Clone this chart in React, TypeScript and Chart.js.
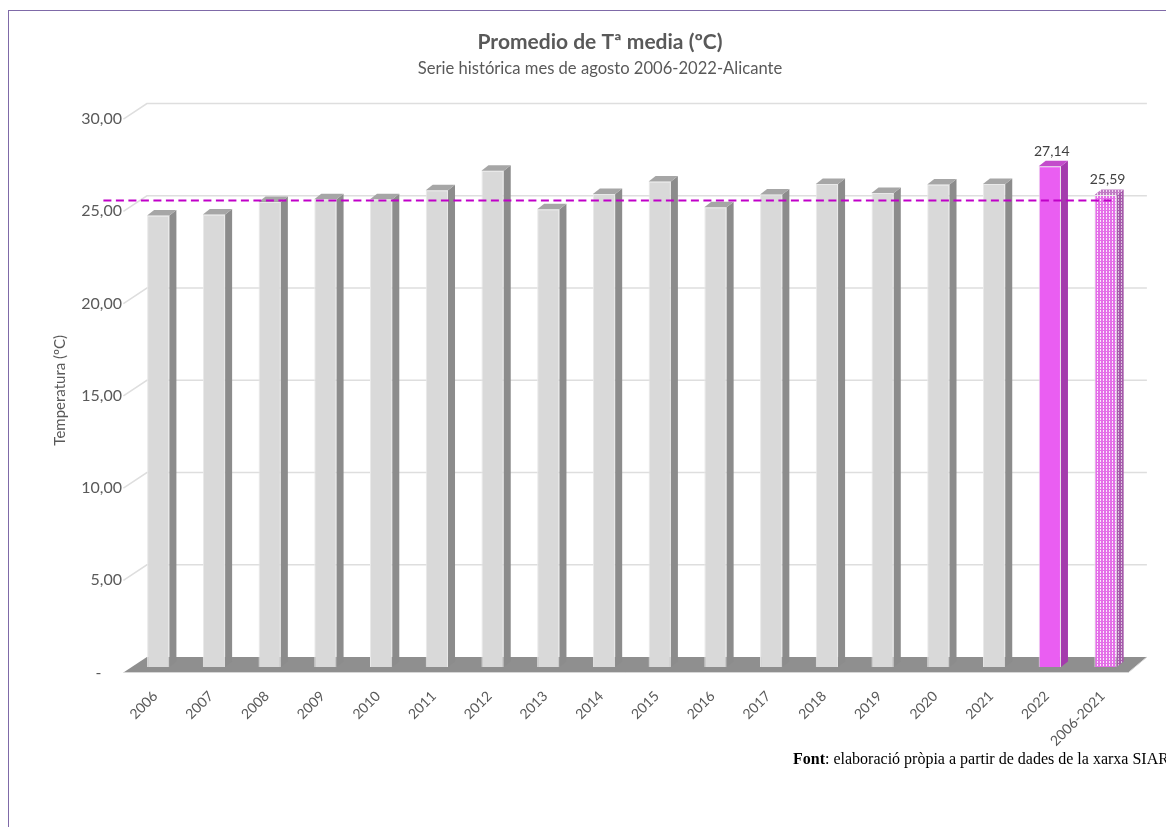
import React, { useEffect, useRef } from 'react';
import { Chart, registerables } from 'chart.js';

Chart.register(...registerables);

// ---------- data ----------
const categories = [
  '2006', '2007', '2008', '2009', '2010', '2011', '2012', '2013', '2014',
  '2015', '2016', '2017', '2018', '2019', '2020', '2021', '2022', '2006-2021',
];
const temperatures = [
  24.47, 24.52, 25.21, 25.35, 25.35, 25.84, 26.9, 24.81, 25.64,
  26.32, 24.92, 25.61, 26.18, 25.69, 26.15, 26.18, 27.14, 25.59,
];
const averageValue = 25.59;
const labelledCategories = ['2022', '2006-2021'];
const yTickValues = [0, 5, 10, 15, 20, 25, 30];
const yTickLabels = ['-     ', '5,00', '10,00', '15,00', '20,00', '25,00', '30,00'];
const titleText = 'Promedio de Tª media (ºC)';
const subtitleText = 'Serie histórica mes de agosto 2006-2022-Alicante';
const yAxisTitle = 'Temperatura (ºC)';
const sourceBold = 'Font';
const sourceRest = ': elaboració pròpia a partir de dades de la xarxa SIAR';

// ---------- style ----------
const FONT = 'Lato, "Open Sans", sans-serif';
const TEXT = '#595959';
const BAR_DX = 7;
const BAR_DY = 5.5;
const PAD_LEFT = 66.6;
const CHART_LEFT = 130.4;

function makePattern(fg: string, bg: string): CanvasPattern {
  const c = document.createElement('canvas');
  c.width = 3;
  c.height = 3;
  const g = c.getContext('2d')!;
  g.fillStyle = bg;
  g.fillRect(0, 0, 3, 3);
  g.fillStyle = fg;
  g.fillRect(0, 0, 3, 1);
  g.fillRect(0, 0, 2, 3);
  return g.createPattern(c, 'repeat')!;
}

const fmt = (v: number) => v.toFixed(2).replace('.', ',');

export default function App() {
  const canvasRef = useRef<HTMLCanvasElement | null>(null);

  useEffect(() => {
    const canvas = canvasRef.current;
    if (!canvas) return;

    const avgFront = makePattern('#e46fe8', '#fbe9fb');
    const avgSide = makePattern('#a65aab', '#dcc0de');
    const avgTop = makePattern('#c07ac4', '#efd8f0');

    const n = categories.length;
    const frontColors: (string | CanvasPattern)[] = [];
    const sideColors: (string | CanvasPattern)[] = [];
    const topColors: (string | CanvasPattern)[] = [];
    for (let i = 0; i < n; i++) {
      if (categories[i] === '2022') {
        frontColors.push('#ea5ef2');
        sideColors.push('#a43bad');
        topColors.push('#c34ccb');
      } else if (categories[i] === '2006-2021') {
        frontColors.push(avgFront);
        sideColors.push(avgSide);
        topColors.push(avgTop);
      } else {
        frontColors.push('#d9d9d9');
        sideColors.push('#8c8c8c');
        topColors.push('#a6a6a6');
      }
    }

    const threeD = {
      id: 'threeD',
      beforeDatasetsDraw(chart: any) {
        const { ctx, chartArea, scales } = chart;
        const y = scales.y;
        const l = chartArea.left;
        const r = chartArea.right;
        ctx.save();
        // back wall gridlines
        ctx.strokeStyle = '#dedede';
        ctx.lineWidth = 1.5;
        yTickValues.forEach((v) => {
          if (v === 0) return;
          const py = y.getPixelForValue(v);
          ctx.beginPath();
          ctx.moveTo(l - 7, py + 5.5);
          ctx.lineTo(l + 16.5, py - 10);
          ctx.lineTo(r + 13.5, py - 10);
          ctx.stroke();
        });
        // floor
        const p0 = y.getPixelForValue(0);
        ctx.fillStyle = '#8f8f8f';
        ctx.beginPath();
        ctx.moveTo(l - 7, p0 + 5.5);
        ctx.lineTo(r - 5, p0 + 5.5);
        ctx.lineTo(r + 13.5, p0 - 10);
        ctx.lineTo(l + 16.5, p0 - 10);
        ctx.closePath();
        ctx.fill();
        ctx.strokeStyle = '#d6d6d6';
        ctx.lineWidth = 1;
        ctx.beginPath();
        ctx.moveTo(l - 7, p0 + 5.5);
        ctx.lineTo(r - 5, p0 + 5.5);
        ctx.lineTo(r + 13.5, p0 - 10);
        ctx.stroke();
        ctx.restore();
      },
      afterDatasetDraw(chart: any, args: any) {
        if (args.index !== 0) return;
        const { ctx } = chart;
        const meta = chart.getDatasetMeta(0);
        ctx.save();
        meta.data.forEach((bar: any, i: number) => {
          const { x, y, width, base } = bar.getProps(['x', 'y', 'width', 'base'], true);
          const xl = x - width / 2;
          const xr = x + width / 2;
          ctx.fillStyle = sideColors[i];
          ctx.beginPath();
          ctx.moveTo(xr, y);
          ctx.lineTo(xr + BAR_DX, y - BAR_DY);
          ctx.lineTo(xr + BAR_DX, base - BAR_DY);
          ctx.lineTo(xr, base);
          ctx.closePath();
          ctx.fill();
          ctx.fillStyle = topColors[i];
          ctx.beginPath();
          ctx.moveTo(xl, y);
          ctx.lineTo(xl + BAR_DX, y - BAR_DY);
          ctx.lineTo(xr + BAR_DX, y - BAR_DY);
          ctx.lineTo(xr, y);
          ctx.closePath();
          ctx.fill();
        });
        ctx.restore();
      },
      afterDatasetsDraw(chart: any) {
        const { ctx, chartArea, scales } = chart;
        const y = scales.y;
        const meta = chart.getDatasetMeta(0);
        const last = meta.data[meta.data.length - 1];
        ctx.save();
        // average dashed line
        const py = y.getPixelForValue(averageValue) + 5.5;
        ctx.strokeStyle = '#c000c8';
        ctx.lineWidth = 2;
        ctx.setLineDash([8, 4.5]);
        ctx.beginPath();
        ctx.moveTo(chartArea.left - 27, py);
        ctx.lineTo(last.x + last.width / 2 - 2, py);
        ctx.stroke();
        ctx.setLineDash([]);
        // data labels
        ctx.fillStyle = '#404040';
        ctx.font = `14px ${FONT}`;
        ctx.textAlign = 'center';
        ctx.textBaseline = 'middle';
        meta.data.forEach((bar: any, i: number) => {
          if (!labelledCategories.includes(categories[i])) return;
          ctx.fillText(fmt(temperatures[i]), bar.x + 2, bar.y - 15);
        });
        ctx.restore();
      },
    };

    const chart = new Chart(canvas, {
      type: 'bar',
      data: {
        labels: categories,
        datasets: [
          {
            data: temperatures,
            backgroundColor: frontColors as any,
            borderColor: '#e9e9e9',
            borderWidth: 1,
            barPercentage: 0.4,
            categoryPercentage: 1,
          },
        ],
      },
      options: {
        responsive: false,
        animation: false,
        layout: { padding: { left: PAD_LEFT, right: 32.6, top: 0, bottom: 0 } },
        plugins: {
          legend: { display: false },
          tooltip: { enabled: false },
          title: {
            display: true,
            text: titleText,
            color: TEXT,
            font: { family: FONT, size: 21, weight: 'bold' },
            padding: { top: 29.4, bottom: 4 },
          },
          subtitle: {
            display: true,
            text: subtitleText,
            color: TEXT,
            font: { family: FONT, size: 16.6 },
            padding: { top: 0, bottom: 35 },
          },
        },
        scales: {
          x: {
            grid: { display: false, drawTicks: false },
            border: { display: false },
            ticks: {
              color: TEXT,
              font: { family: FONT, size: 14 },
              minRotation: 45,
              maxRotation: 45,
              autoSkip: false,
              padding: 21,
              labelOffset: -3,
            },
            afterFit: (scale: any) => {
              scale.height = 160;
            },
          },
          y: {
            min: 0,
            max: 30,
            grid: { display: false, drawTicks: false },
            border: { display: false },
            afterBuildTicks: (scale: any) => {
              scale.ticks = yTickValues.map((v) => ({ value: v }));
            },
            ticks: {
              color: TEXT,
              font: { family: FONT, size: 16 },
              padding: 8.4,
              labelOffset: 5.5,
              callback: (_v: any, index: number) => yTickLabels[index],
            },
            title: {
              display: true,
              text: yAxisTitle,
              color: TEXT,
              font: { family: FONT, size: 15 },
              padding: { top: 60 - PAD_LEFT - 9, bottom: 0 },
            },
            afterFit: (scale: any) => {
              scale.width = CHART_LEFT - PAD_LEFT;
            },
          },
        },
      },
      plugins: [threeD],
    });

    return () => chart.destroy();
  }, []);

  return (
    <div
      style={{
        position: 'fixed',
        left: 0,
        top: 0,
        width: 1166,
        height: 827,
        overflow: 'hidden',
        background: '#ffffff',
      }}
    >
      <canvas
        ref={canvasRef}
        width={1166}
        height={827}
        style={{ position: 'absolute', left: 0, top: 0, width: 1166, height: 827 }}
      />
      <div style={{ position: 'absolute', left: 8, top: 10, width: 1158, height: 1, background: '#7f6aa8' }} />
      <div style={{ position: 'absolute', left: 8, top: 10, width: 1, height: 817, background: '#7f6aa8' }} />
      <div
        style={{
          position: 'absolute',
          left: 793,
          top: 750,
          whiteSpace: 'nowrap',
          fontFamily: '"Liberation Serif", "Times New Roman", serif',
          fontSize: 16,
          color: '#000000',
        }}
      >
        <b>{sourceBold}</b>
        {sourceRest}
      </div>
    </div>
  );
}
